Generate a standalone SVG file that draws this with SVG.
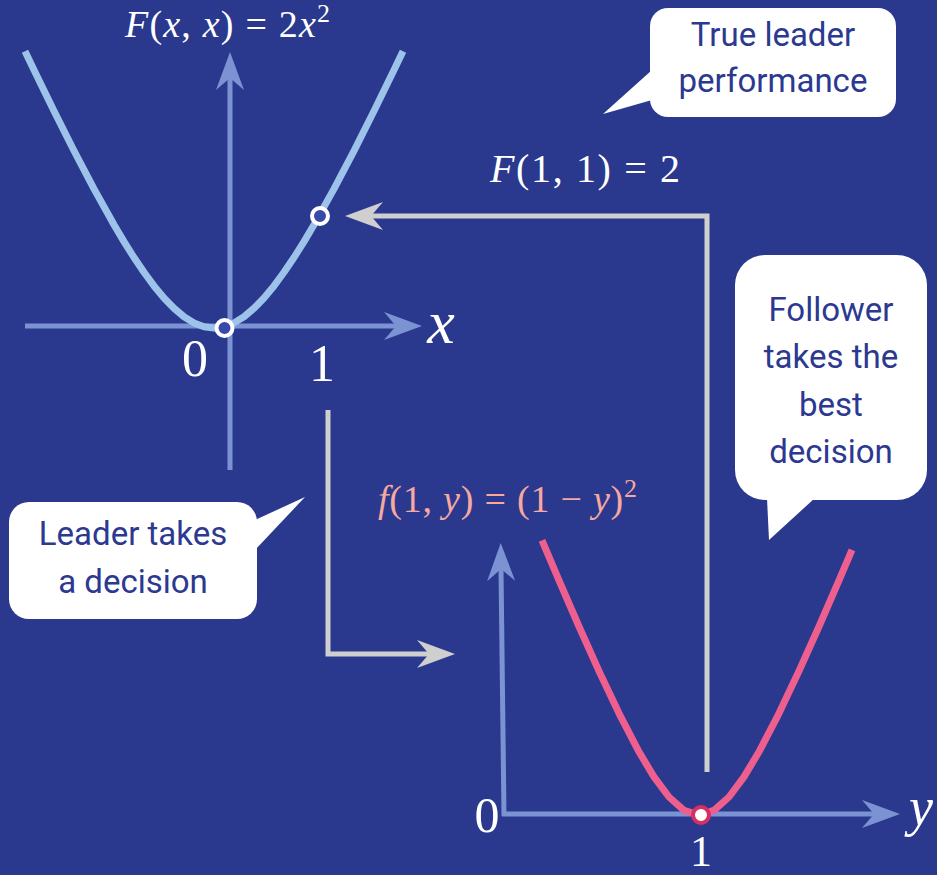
<svg xmlns="http://www.w3.org/2000/svg" width="937" height="875" viewBox="0 0 937 875">
<style>
.axis{stroke:#7b92d3;stroke-width:5;fill:none}
.conn{stroke:#cfcfcf;stroke-width:5;fill:none;stroke-linejoin:miter}
.m{font-family:"Liberation Serif","DejaVu Serif",serif;fill:#ffffff}
.i{font-style:italic}
.bub{fill:#ffffff}
.bt{font-family:Roboto,"Liberation Sans",sans-serif;font-size:33px;fill:#2b3990;text-anchor:middle}
</style>
<defs>
<marker id="ah" markerUnits="userSpaceOnUse" markerWidth="40" markerHeight="30" refX="12" refY="14" orient="auto" overflow="visible">
<path d="M38,14 L0,0 L12,14 L0,28 Z" fill="#7b92d3"/>
</marker>
<marker id="gh" markerUnits="userSpaceOnUse" markerWidth="40" markerHeight="30" refX="12" refY="14" orient="auto" overflow="visible">
<path d="M38,14 L0,0 L12,14 L0,28 Z" fill="#cfcfcf"/>
</marker>
</defs>
<rect width="937" height="875" fill="#2a398e"/>

<g id="upper-plot">
<line class="axis" x1="25" y1="326" x2="396" y2="326" marker-end="url(#ah)"/>
<line class="axis" x1="230" y1="470" x2="230" y2="78" marker-end="url(#ah)"/>
<path d="M25,51.3 L34,70 L54,111 L74,150.8 L94,188.9 L114,224.7 L124,241.6 L134,257.5 L144,272.3 L154,285.9 L164,298 L174,308.3 L184,316.7 L194,322.9 L204,326.7 L214,328 L224,326.7 L234,322.9 L244,316.7 L254,308.3 L264,298 L274,285.9 L284,272.3 L294,257.5 L304,241.6 L314,224.7 L334,188.9 L354,150.8 L374,111 L394,70 L403,51.3" fill="none" stroke="#9dc3ea" stroke-width="7" stroke-linejoin="round"/>
<circle cx="224.5" cy="328" r="8" fill="#3a4aa8" stroke="#ffffff" stroke-width="4"/>
<circle cx="320" cy="216" r="8" fill="#3a4aa8" stroke="#ffffff" stroke-width="4"/>
<text class="m" x="125" y="37" font-size="38" textLength="205" lengthAdjust="spacing"><tspan class="i">F</tspan>(<tspan class="i">x</tspan>, <tspan class="i">x</tspan>) = 2<tspan class="i">x</tspan><tspan font-size="26" dy="-15">2</tspan></text>
<text class="m" x="195" y="376" font-size="52" text-anchor="middle">0</text>
<text class="m" x="322" y="381" font-size="52" text-anchor="middle">1</text>
<text class="m i" x="441" y="343" font-size="62" text-anchor="middle">x</text>
</g>

<g id="lower-plot">
<line class="axis" x1="504" y1="816" x2="501" y2="569" marker-end="url(#ah)"/>
<line class="axis" x1="502" y1="814" x2="874" y2="814" marker-end="url(#ah)"/>
<path d="M542,540.3 L559,580.4 L579,626.5 L599,671.1 L619,713.3 L639,751.8 L654,776.9 L669,797 L684,810.3 L699,815 L714,810.3 L729,797 L744,776.9 L759,751.8 L779,713.3 L799,671.1 L819,626.5 L839,580.4 L852,549.8" fill="none" stroke="#ef5f8e" stroke-width="7" stroke-linejoin="round"/>
<circle cx="701" cy="815" r="8" fill="#ffffff" stroke="#d62f62" stroke-width="4"/>
<text class="m" x="378" y="512" font-size="38" style="fill:#f7a8a0" textLength="259" lengthAdjust="spacing"><tspan class="i">f</tspan>(1, <tspan class="i">y</tspan>) = (1 − <tspan class="i">y</tspan>)<tspan font-size="26" dy="-15">2</tspan></text>
<text class="m" x="487" y="832" font-size="50" text-anchor="middle">0</text>
<text class="m" x="701" y="866" font-size="44" text-anchor="middle">1</text>
<text class="m i" x="921" y="825" font-size="54" text-anchor="middle">y</text>
</g>

<g id="connectors">
<path class="conn" d="M707,772 L707,216 L371,216" marker-end="url(#gh)"/>
<path class="conn" d="M328,410 L328,654 L429,654" marker-end="url(#gh)"/>
<text class="m" x="490" y="182" font-size="40" textLength="190" lengthAdjust="spacing"><tspan class="i">F</tspan>(1, 1) = 2</text>
</g>

<g id="bubble-true-leader">
<rect class="bub" x="650" y="8" width="246" height="109" rx="18"/>
<polygon class="bub" points="652,70 603,114 652,100"/>
<text class="bt" x="773" y="46">True leader</text>
<text class="bt" x="773" y="92">performance</text>
</g>

<g id="bubble-follower">
<rect class="bub" x="735" y="255" width="192" height="245" rx="30"/>
<polygon class="bub" points="767,498 769,540 815,498"/>
<text class="bt" x="831" y="321">Follower</text>
<text class="bt" x="831" y="368">takes the</text>
<text class="bt" x="831" y="416">best</text>
<text class="bt" x="831" y="463">decision</text>
</g>

<g id="bubble-leader">
<rect class="bub" x="9" y="502" width="248" height="117" rx="20"/>
<polygon class="bub" points="255,520 305,497 255,550"/>
<text class="bt" x="133" y="545">Leader takes</text>
<text class="bt" x="133" y="593">a decision</text>
</g>
</svg>
